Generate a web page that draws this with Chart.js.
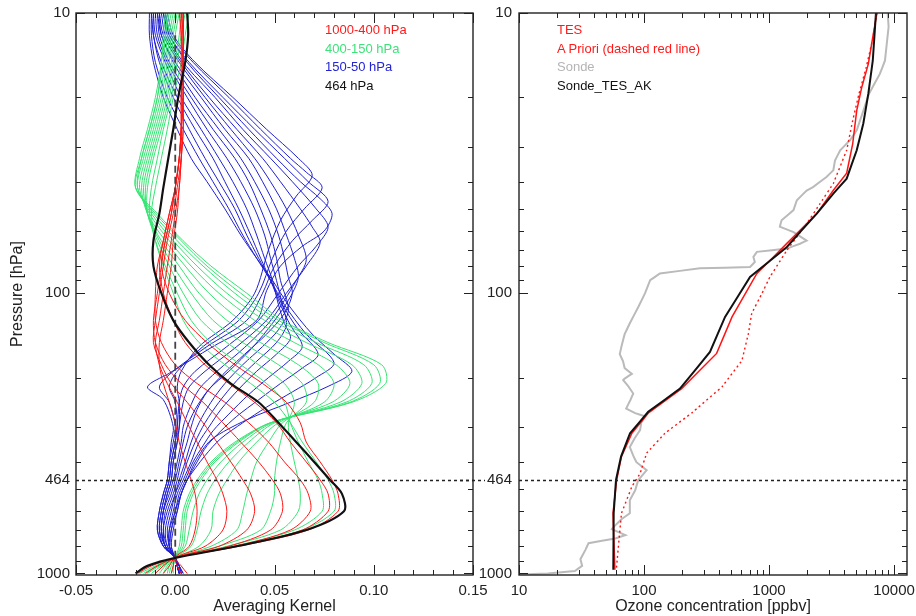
<!DOCTYPE html>
<html lang="en">
<head>
<meta charset="UTF-8">
<title>TES averaging kernels and ozone profile</title>
<script src="https://cdn.jsdelivr.net/npm/chart.js"></script>
<style>
    body {
        margin: 0;
        background: #fff;
        font-family: 'Liberation Sans', Arial, sans-serif;
    }
    #wrap {
        position: relative;
        width: 916px;
        height: 616px;
    }
    #kernels { position: absolute; left: 0; top: 0; }
    #ozone { position: absolute; left: 455px; top: 0; }
    .leg {
        position: absolute;
        font-size: 13px;
        line-height: 18.5px;
        white-space: nowrap;
    }
</style>
</head>
<body>
<div id="wrap">
    <canvas id="kernels" width="500" height="616" style="width:500px;height:616px"></canvas>
    <canvas id="ozone" width="461" height="616" style="width:461px;height:616px"></canvas>
    <div class="leg" style="left:325px;top:21px">
        <div style="color:#ff1a1a">1000-400 hPa</div>
        <div style="color:#3ee27a">400-150 hPa</div>
        <div style="color:#2323d2">150-50 hPa</div>
        <div style="color:#111">464 hPa</div>
    </div>
    <div class="leg" style="left:557px;top:21px">
        <div style="color:#ff1a1a">TES</div>
        <div style="color:#ff1a1a">A Priori (dashed red line)</div>
        <div style="color:#b4b4b4">Sonde</div>
        <div style="color:#111">Sonde_TES_AK</div>
    </div>
</div>

<script>
// ---------- left panel: averaging kernels ----------
// pressure levels (hPa) shared by the red, green and black kernels
const levels = [1000, 940, 880, 800, 700, 600, 520, 464, 400, 340, 290, 245, 210, 180, 150, 125, 100, 80, 65, 52, 42, 33, 26, 20, 15, 12, 10];

const kernel464 = [-0.020, -0.014, 0, 0.031, 0.066, 0.085, 0.084, 0.078, 0.070, 0.061, 0.052, 0.042, 0.028, 0.017, 0.007, -0.001, -0.007, -0.011, -0.011, -0.008, -0.006, -0.0035, -0.001, 0.0015, 0.005, 0.0065, 0.006];

// 1000-400 hPa rows
const redKernels = [
    [0.006, 0.003, 0, 0.007, 0.010, 0.011, 0.010, 0.008, 0.005, 0.002, 0.000, -0.003, -0.006, -0.008, -0.008, -0.006, -0.004, -0.002, -0.001, 0.001, 0.002, 0.003, 0.003, 0.003, 0.003, 0.003, 0.002],
    [0.003, 0.001, 0, 0.015, 0.024, 0.026, 0.024, 0.021, 0.016, 0.011, 0.006, 0.001, -0.004, -0.008, -0.010, -0.008, -0.006, -0.004, -0.002, 0.000, 0.002, 0.003, 0.004, 0.004, 0.004, 0.003, 0.003],
    [-0.002, -0.001, 0, 0.022, 0.036, 0.040, 0.038, 0.034, 0.028, 0.021, 0.014, 0.006, -0.002, -0.007, -0.011, -0.010, -0.008, -0.006, -0.004, -0.001, 0.001, 0.003, 0.004, 0.004, 0.004, 0.004, 0.003],
    [-0.006, -0.003, 0, 0.027, 0.048, 0.054, 0.053, 0.049, 0.042, 0.033, 0.024, 0.014, 0.003, -0.005, -0.010, -0.011, -0.009, -0.007, -0.005, -0.002, 0.000, 0.002, 0.003, 0.004, 0.004, 0.004, 0.004],
    [-0.010, -0.006, 0, 0.030, 0.058, 0.068, 0.067, 0.063, 0.055, 0.047, 0.037, 0.025, 0.011, 0.000, -0.007, -0.010, -0.010, -0.009, -0.006, -0.003, 0.000, 0.002, 0.003, 0.004, 0.004, 0.004, 0.004],
    [-0.015, -0.009, 0, 0.031, 0.064, 0.077, 0.077, 0.073, 0.066, 0.058, 0.051, 0.040, 0.027, 0.015, 0.005, -0.001, -0.006, -0.008, -0.006, -0.003, 0.000, 0.002, 0.003, 0.004, 0.004, 0.004, 0.004],
    [-0.019, -0.012, 0, 0.032, 0.067, 0.082, 0.082, 0.079, 0.073, 0.066, 0.063, 0.056, 0.044, 0.030, 0.016, 0.005, -0.003, -0.007, -0.005, -0.002, 0.000, 0.002, 0.003, 0.003, 0.004, 0.004, 0.004]
];

// 400-150 hPa rows
const greenKernels = [
    [-0.018, -0.010, 0, 0.030, 0.064, 0.080, 0.080, 0.077, 0.071, 0.064, 0.058, 0.050, 0.038, 0.025, 0.012, 0.004, -0.001, -0.006, -0.010, -0.012, -0.010, -0.007, -0.004, -0.001, 0.003, 0.005, 0.007],
    [-0.016, -0.009, 0, 0.029, 0.060, 0.074, 0.074, 0.072, 0.067, 0.062, 0.058, 0.055, 0.046, 0.033, 0.018, 0.008, 0.001, -0.005, -0.010, -0.013, -0.012, -0.009, -0.006, -0.002, 0.001, 0.003, 0.005],
    [-0.014, -0.008, 0, 0.026, 0.053, 0.062, 0.063, 0.062, 0.060, 0.058, 0.057, 0.060, 0.055, 0.042, 0.026, 0.013, 0.004, -0.003, -0.009, -0.014, -0.014, -0.011, -0.007, -0.003, 0.000, 0.002, 0.003],
    [-0.012, -0.007, 0, 0.022, 0.043, 0.048, 0.050, 0.050, 0.051, 0.053, 0.056, 0.066, 0.064, 0.052, 0.034, 0.019, 0.008, -0.001, -0.008, -0.014, -0.015, -0.012, -0.008, -0.004, -0.001, 0.000, 0.002],
    [-0.010, -0.006, 0, 0.018, 0.031, 0.034, 0.036, 0.038, 0.041, 0.047, 0.054, 0.070, 0.072, 0.062, 0.043, 0.026, 0.012, 0.002, -0.007, -0.014, -0.016, -0.013, -0.009, -0.005, -0.002, -0.001, 0.001],
    [-0.008, -0.005, 0, 0.012, 0.018, 0.019, 0.022, 0.026, 0.032, 0.041, 0.052, 0.075, 0.080, 0.072, 0.052, 0.033, 0.017, 0.005, -0.005, -0.014, -0.017, -0.014, -0.010, -0.006, -0.003, -0.002, 0.000],
    [-0.006, -0.004, 0, 0.008, 0.011, 0.013, 0.016, 0.020, 0.027, 0.037, 0.050, 0.079, 0.088, 0.081, 0.060, 0.040, 0.022, 0.008, -0.003, -0.013, -0.018, -0.015, -0.011, -0.007, -0.004, -0.003, -0.001],
    [-0.004, -0.003, 0, 0.005, 0.007, 0.009, 0.012, 0.016, 0.023, 0.034, 0.049, 0.083, 0.094, 0.089, 0.066, 0.045, 0.026, 0.011, -0.001, -0.012, -0.019, -0.016, -0.012, -0.008, -0.005, -0.004, -0.002],
    [-0.003, -0.002, 0, 0.004, 0.005, 0.006, 0.009, 0.013, 0.020, 0.032, 0.048, 0.086, 0.099, 0.095, 0.071, 0.049, 0.030, 0.014, 0.001, -0.011, -0.019, -0.017, -0.013, -0.009, -0.006, -0.005, -0.003],
    [-0.002, -0.001, 0, 0.003, 0.004, 0.005, 0.008, 0.012, 0.019, 0.031, 0.048, 0.088, 0.103, 0.100, 0.075, 0.052, 0.033, 0.016, 0.003, -0.010, -0.020, -0.017, -0.013, -0.009, -0.007, -0.005, -0.004],
    [-0.001, -0.001, 0, 0.002, 0.003, 0.004, 0.007, 0.011, 0.018, 0.030, 0.048, 0.089, 0.106, 0.104, 0.077, 0.054, 0.036, 0.018, 0.004, -0.009, -0.020, -0.018, -0.014, -0.010, -0.007, -0.006, -0.005]
];

// 150-50 hPa rows, each as [pressure, value] pairs
const blueKernels = [
    [[10,-0.013],[12,-0.013],[15,-0.011],[20,-0.006],[26,0.001],[33,0.008],[40,0.016],[50,0.025],[62,0.033],[75,0.041],[90,0.049],[110,0.057],[140,0.069],[165,0.080],[190,0.089],[215,0.077],[245,0.058],[283,0.036],[334,0.018],[400,0.010],[464,0.006],[520,0.003],[600,0.001],[700,-0.001],[800,-0.002],[880,0],[940,0.002],[1000,0.004]],
    [[10,-0.012],[12,-0.012],[15,-0.010],[20,-0.004],[26,0.004],[33,0.012],[40,0.019],[50,0.027],[62,0.034],[75,0.041],[90,0.048],[110,0.055],[140,0.066],[177,0.080],[200,0.071],[225,0.059],[255,0.046],[290,0.034],[330,0.023],[380,0.015],[464,0.006],[520,0.003],[600,0.001],[700,-0.002],[800,-0.002],[880,0],[940,0.002],[1000,0.004]],
    [[10,-0.012],[12,-0.011],[15,-0.008],[20,-0.001],[26,0.007],[33,0.015],[40,0.022],[50,0.030],[62,0.036],[75,0.042],[90,0.048],[110,0.054],[135,0.062],[165,0.072],[185,0.064],[210,0.053],[240,0.042],[275,0.031],[310,0.023],[350,0.016],[400,0.011],[464,0.006],[520,0.003],[600,0.000],[700,-0.002],[800,-0.003],[880,0],[940,0.002],[1000,0.003]],
    [[10,-0.011],[12,-0.011],[15,-0.007],[20,0.001],[26,0.010],[33,0.019],[40,0.025],[50,0.032],[62,0.038],[75,0.043],[90,0.048],[110,0.053],[130,0.058],[155,0.064],[175,0.057],[200,0.047],[230,0.037],[270,0.027],[310,0.019],[350,0.014],[400,0.009],[464,0.005],[520,0.002],[600,0.000],[700,-0.003],[800,-0.003],[880,0],[940,0.002],[1000,0.003]],
    [[10,-0.011],[12,-0.010],[15,-0.005],[20,0.003],[26,0.013],[33,0.022],[40,0.029],[50,0.036],[62,0.041],[75,0.045],[90,0.049],[110,0.052],[128,0.055],[145,0.058],[165,0.051],[190,0.041],[220,0.032],[260,0.023],[300,0.017],[340,0.012],[400,0.008],[464,0.004],[520,0.001],[600,-0.001],[700,-0.003],[800,-0.003],[880,0],[940,0.002],[1000,0.003]],
    [[10,-0.010],[12,-0.009],[15,-0.004],[20,0.006],[26,0.016],[33,0.026],[40,0.033],[50,0.040],[62,0.045],[75,0.048],[90,0.051],[110,0.054],[130,0.056],[150,0.051],[175,0.041],[205,0.031],[245,0.022],[290,0.015],[340,0.010],[400,0.006],[464,0.003],[520,0.000],[600,-0.002],[700,-0.004],[800,-0.003],[880,0],[940,0.001],[1000,0.003]],
    [[10,-0.009],[12,-0.008],[15,-0.003],[20,0.008],[26,0.019],[33,0.030],[40,0.037],[50,0.043],[62,0.048],[75,0.051],[90,0.053],[115,0.057],[135,0.052],[155,0.044],[180,0.034],[210,0.025],[245,0.018],[290,0.012],[340,0.008],[400,0.005],[464,0.002],[520,0.000],[600,-0.003],[700,-0.005],[800,-0.004],[880,0],[940,0.001],[1000,0.003]],
    [[10,-0.009],[12,-0.007],[15,-0.001],[20,0.010],[26,0.022],[33,0.033],[40,0.040],[50,0.047],[62,0.052],[75,0.055],[88,0.057],[100,0.059],[118,0.055],[140,0.046],[165,0.035],[195,0.024],[225,0.016],[260,0.011],[300,0.008],[340,0.006],[400,0.003],[464,0.001],[520,-0.001],[600,-0.004],[700,-0.006],[800,-0.004],[880,0],[940,0.001],[1000,0.002]],
    [[10,-0.008],[12,-0.007],[15,0.000],[20,0.013],[26,0.025],[33,0.037],[40,0.044],[50,0.051],[62,0.056],[75,0.060],[88,0.062],[106,0.057],[128,0.049],[156,0.039],[190,0.027],[220,0.017],[260,0.010],[300,0.006],[340,0.004],[400,0.002],[464,0.000],[520,-0.002],[600,-0.005],[700,-0.006],[800,-0.005],[880,0],[940,0.001],[1000,0.002]],
    [[10,-0.008],[12,-0.006],[15,0.002],[20,0.015],[26,0.028],[33,0.040],[40,0.048],[50,0.056],[62,0.062],[76,0.066],[90,0.061],[106,0.055],[128,0.047],[156,0.035],[190,0.021],[220,0.012],[260,0.007],[300,0.004],[340,0.003],[400,0.001],[464,-0.001],[520,-0.003],[600,-0.006],[700,-0.007],[800,-0.005],[880,0],[940,0.001],[1000,0.002]],
    [[10,-0.007],[12,-0.005],[15,0.003],[20,0.017],[26,0.031],[33,0.044],[40,0.053],[50,0.063],[58,0.069],[66,0.073],[80,0.066],[100,0.056],[125,0.046],[155,0.031],[190,0.015],[216,0.007],[245,0.004],[300,0.002],[340,0.001],[400,-0.001],[464,-0.002],[520,-0.004],[600,-0.006],[700,-0.007],[800,-0.005],[880,0],[940,0.001],[1000,0.002]],
    [[10,-0.006],[12,-0.004],[15,0.004],[20,0.020],[26,0.034],[33,0.048],[40,0.059],[50,0.071],[58,0.077],[68,0.071],[80,0.062],[100,0.052],[125,0.042],[155,0.026],[190,0.010],[216,0.004],[245,0.002],[300,0.001],[340,0.000],[400,-0.002],[464,-0.003],[520,-0.005],[600,-0.007],[700,-0.008],[800,-0.005],[880,0],[940,0.001],[1000,0.002]],
    [[10,-0.006],[12,-0.003],[15,0.006],[20,0.022],[26,0.037],[33,0.051],[40,0.063],[46,0.073],[52,0.079],[60,0.075],[68,0.064],[80,0.053],[98,0.046],[125,0.041],[155,0.019],[193,-0.003],[216,-0.014],[240,-0.006],[300,-0.001],[340,-0.002],[400,-0.003],[464,-0.004],[520,-0.006],[600,-0.008],[700,-0.009],[800,-0.006],[880,0],[940,0.001],[1000,0.002]],
    [[10,-0.005],[12,-0.003],[15,0.007],[20,0.024],[26,0.040],[33,0.055],[40,0.067],[47,0.077],[55,0.069],[65,0.059],[80,0.050],[100,0.044],[125,0.036],[155,0.016],[190,-0.001],[216,-0.008],[245,-0.003],[300,0.000],[340,-0.001],[400,-0.003],[464,-0.004],[520,-0.006],[600,-0.008],[700,-0.009],[800,-0.006],[880,0],[940,0.001],[1000,0.002]],
    [[10,-0.005],[12,-0.002],[15,0.009],[20,0.027],[26,0.043],[33,0.058],[37,0.066],[42,0.074],[50,0.065],[60,0.056],[75,0.049],[100,0.042],[125,0.032],[155,0.014],[190,0.001],[216,-0.003],[245,0.000],[300,0.001],[340,0.000],[400,-0.002],[464,-0.003],[520,-0.005],[600,-0.007],[700,-0.008],[800,-0.006],[880,0],[940,0.001],[1000,0.002]],
    [[10,-0.004],[12,-0.001],[15,0.010],[20,0.029],[26,0.046],[33,0.062],[38,0.069],[45,0.061],[55,0.053],[70,0.047],[100,0.040],[125,0.029],[155,0.012],[190,0.003],[216,0.001],[245,0.002],[300,0.002],[340,0.001],[400,-0.001],[464,-0.002],[520,-0.004],[600,-0.006],[700,-0.007],[800,-0.005],[880,0],[940,0.001],[1000,0.002]]
];

const kernelTickLabels = [-0.05, 0, 0.05, 0.10, 0.15];
const kernelMinorTicks = [-0.04, -0.03, -0.02, -0.01, 0.01, 0.02, 0.03, 0.04, 0.06, 0.07, 0.08, 0.09, 0.11, 0.12, 0.13, 0.14];

// ---------- right panel: ozone profiles ----------
const sondeP = [10, 11.2, 14.8, 16.5, 19.4, 22.3, 26.2, 28.4, 30.9, 33.6, 36.4, 38.5, 41.8, 43, 46.6, 50.5, 54.9, 57.9, 60.5, 64.9, 66.6, 69.3, 71.2, 74.2, 77.4, 80.6, 81.5, 85, 89.9, 100, 112, 128, 140, 155, 165, 175, 185, 194, 200, 204, 215, 228, 240, 258, 268, 275, 290, 308, 330, 354, 380, 401, 428, 464, 505, 548, 610, 641, 694, 730, 750, 780, 824, 890, 940, 980, 1000, 1010];
const sondeV = [8900, 9050, 8460, 7700, 6310, 5690, 5030, 4460, 3710, 3370, 3270, 2880, 2250, 2000, 1670, 1570, 1260, 1220, 1570, 2000, 1770, 1390, 800, 750, 770, 705, 280, 134, 112, 102, 90, 77, 70, 66, 64, 68, 70, 80, 72, 68, 75, 82, 78, 72, 85, 102, 95, 93, 84, 77, 82, 87, 105, 90, 85, 77, 77, 66, 55, 71, 59, 36, 34, 31, 32, 28, 17, 10];

const tesP = [10, 12.2, 15.2, 18.4, 22.3, 29.3, 37.3, 42.9, 52, 66.4, 85, 121.5, 164, 219, 268, 316, 383, 464, 610, 971];
const tesV = [7300, 6760, 6230, 5520, 5030, 4670, 4180, 3270, 2410, 1390, 800, 506, 381, 200, 108, 80, 66, 60.4, 56.5, 58.5];

const aprioriP = [10, 12.2, 15.6, 19.4, 24.2, 30.9, 40.6, 47.9, 56.5, 70.3, 87.5, 100, 118, 139, 174, 216, 268, 316, 372, 440, 490, 610, 971];
const aprioriV = [7300, 6800, 6000, 5250, 4670, 4180, 3270, 2560, 2000, 1390, 1016, 880, 727, 685, 607, 420, 240, 147, 105, 93, 80, 66, 60];

const sondeAkP = [10, 11.2, 14.8, 19.4, 24.8, 30.9, 39, 44.1, 52, 60.5, 68.4, 87.5, 121.5, 162, 219, 265, 316, 383, 464, 610, 971];
const sondeAkV = [7170, 7050, 6760, 6230, 5680, 5030, 4180, 3270, 2410, 1770, 1390, 705, 445, 337, 194, 108, 77.3, 65.5, 59.7, 57.2, 56.8];

const ozoneTickLabels = [10, 100, 1000, 10000];
const ozoneMinorTicks = [20, 30, 40, 50, 60, 70, 80, 90, 200, 300, 400, 500, 600, 700, 800, 900, 2000, 3000, 4000, 5000, 6000, 7000, 8000, 9000];

const pressureTickLabels = [10, 100, 464, 1000];
const pressureMajorTicks = [10, 100, 1000];
const pressureMinorTicks = [20, 30, 40, 50, 60, 70, 80, 90, 200, 300, 400, 500, 600, 700, 800, 900];

const RED = 'rgb(255, 20, 20)';
const GREEN = 'rgb(55, 228, 115)';
const BLUE = 'rgb(30, 30, 212)';
const GREY = 'rgb(186, 186, 186)';
const FONT = "'Liberation Sans', Arial, sans-serif";

Chart.defaults.font.family = FONT;
Chart.defaults.color = '#222';

// inward tick marks on all four sides, the frame and the 464 hPa dotted line
const frameTicks = {
    id: 'frameTicks',
    afterDatasetsDraw(chart, args, o) {
        const {ctx, chartArea: a} = chart;
        const sx = chart.scales.x, sy = chart.scales.y;
        ctx.save();
        ctx.strokeStyle = '#222';
        ctx.lineWidth = 1;
        ctx.beginPath();
        const tx = (v, len) => {
            const x = Math.round(sx.getPixelForValue(v)) + 0.5;
            ctx.moveTo(x, a.bottom); ctx.lineTo(x, a.bottom - len);
            ctx.moveTo(x, a.top); ctx.lineTo(x, a.top + len);
        };
        const ty = (v, len) => {
            const y = Math.round(sy.getPixelForValue(v)) + 0.5;
            ctx.moveTo(a.left, y); ctx.lineTo(a.left + len, y);
            ctx.moveTo(a.right, y); ctx.lineTo(a.right - len, y);
        };
        o.xMajor.forEach(v => tx(v, 10));
        o.xMinor.forEach(v => tx(v, 5));
        o.yMajor.forEach(v => ty(v, 9));
        o.yMinor.forEach(v => ty(v, 5));
        ctx.stroke();
        ctx.lineWidth = 1.4;
        ctx.strokeRect(a.left, a.top, a.right - a.left, a.bottom - a.top);

        const y = Math.round(sy.getPixelForValue(464)) + 0.5;
        ctx.setLineDash([3, 3]);
        ctx.lineWidth = 1.3;
        ctx.beginPath();
        if (o.leadIn) {
            ctx.moveTo(o.leadIn[0], y); ctx.lineTo(o.leadIn[1], y);
        }
        ctx.moveTo(a.left, y); ctx.lineTo(a.right, y);
        ctx.stroke();
        ctx.restore();
    }
};

function fixBox(size, horizontal) {
    return function (scale) {
        if (horizontal) scale.height = size; else scale.width = size;
        scale.paddingLeft = 0; scale.paddingRight = 0;
        scale.paddingTop = 0; scale.paddingBottom = 0;
    };
}

function setTicks(values) {
    return function (scale) {
        scale.ticks = values.map(v => ({value: v}));
    };
}

function pressureAxis(width, pad, showTitle) {
    return {
        type: 'logarithmic',
        reverse: true,
        min: 10,
        max: 1013,
        grid: {display: false, drawTicks: false},
        border: {display: false},
        afterBuildTicks: setTicks(pressureTickLabels),
        afterFit: fixBox(width, false),
        ticks: {
            padding: pad,
            autoSkip: false,
            font: {size: 15},
            color: '#222',
            callback: v => String(v)
        },
        title: {
            display: showTitle,
            text: 'Pressure [hPa]',
            font: {size: 16},
            color: '#222',
            padding: {top: 8, bottom: 0}
        }
    };
}

// ---------- kernels chart ----------
const kernelSets = [];
kernelSets.push({
    data: levels.map((p, i) => ({x: kernel464[i], y: p})),
    borderColor: '#111', borderWidth: 2.2, tension: 0.3, order: 0
});
kernelSets.push({
    data: [{x: 0, y: 880}, {x: 0, y: 12}],
    borderColor: '#444', borderWidth: 1.8, borderDash: [7, 4], order: 1
});
redKernels.forEach(k => kernelSets.push({
    data: levels.map((p, i) => ({x: k[i], y: p})),
    borderColor: RED, borderWidth: 1, tension: 0.3, order: 2
}));
greenKernels.forEach(k => kernelSets.push({
    data: levels.map((p, i) => ({x: k[i], y: p})),
    borderColor: GREEN, borderWidth: 1, tension: 0.3, order: 3
}));
blueKernels.forEach(k => kernelSets.push({
    data: k.map(([p, v]) => ({x: v, y: p})),
    borderColor: BLUE, borderWidth: 1, tension: 0.3, order: 4
}));

new Chart(document.getElementById('kernels'), {
    type: 'line',
    data: {datasets: kernelSets},
    options: {
        responsive: false,
        animation: false,
        layout: {padding: {top: 13, right: 27, bottom: 0, left: 0}, autoPadding: false},
        elements: {point: {radius: 0}, line: {fill: false}},
        plugins: {
            legend: {display: false},
            tooltip: {enabled: false},
            frameTicks: {
                xMajor: kernelTickLabels, xMinor: kernelMinorTicks,
                yMajor: pressureMajorTicks, yMinor: pressureMinorTicks
            }
        },
        scales: {
            x: {
                type: 'linear',
                min: -0.05,
                max: 0.15,
                grid: {display: false, drawTicks: false},
                border: {display: false},
                afterBuildTicks: setTicks(kernelTickLabels),
                afterFit: fixBox(41, true),
                ticks: {
                    padding: 7,
                    autoSkip: false,
                    maxRotation: 0,
                    font: {size: 15},
                    color: '#222',
                    callback: v => Number(v).toFixed(2)
                },
                title: {
                    display: true,
                    text: 'Averaging Kernel',
                    font: {size: 16},
                    color: '#222',
                    padding: {top: 0, bottom: 0}
                }
            },
            y: pressureAxis(76, 6, true)
        }
    },
    plugins: [frameTicks]
});

// ---------- ozone chart ----------
function profile(pArr, vArr, color, width, order, dash) {
    return {
        data: pArr.map((p, i) => ({x: vArr[i], y: p})),
        borderColor: color,
        borderWidth: width,
        borderDash: dash || [],
        tension: 0.0001,
        order: order
    };
}

new Chart(document.getElementById('ozone'), {
    type: 'line',
    data: {
        datasets: [
            profile(sondeAkP, sondeAkV, '#111', 2, 0),
            profile(tesP, tesV, RED, 1.5, 1),
            profile(aprioriP, aprioriV, RED, 1.4, 2, [2, 3]),
            profile(sondeP, sondeV, GREY, 2, 3)
        ]
    },
    options: {
        responsive: false,
        animation: false,
        layout: {padding: {top: 13, right: 9, bottom: 0, left: 0}, autoPadding: false},
        elements: {point: {radius: 0}, line: {fill: false}},
        plugins: {
            legend: {display: false},
            tooltip: {enabled: false},
            frameTicks: {
                xMajor: ozoneTickLabels, xMinor: ozoneMinorTicks,
                yMajor: pressureMajorTicks, yMinor: pressureMinorTicks,
                leadIn: [5, 30]
            }
        },
        scales: {
            x: {
                type: 'logarithmic',
                min: 10,
                max: 12700,
                grid: {display: false, drawTicks: false},
                border: {display: false},
                afterBuildTicks: setTicks(ozoneTickLabels),
                afterFit: fixBox(41, true),
                ticks: {
                    padding: 7,
                    autoSkip: false,
                    maxRotation: 0,
                    font: {size: 15},
                    color: '#222',
                    callback: v => String(v)
                },
                title: {
                    display: true,
                    text: 'Ozone concentration [ppbv]',
                    font: {size: 16},
                    color: '#222',
                    padding: {top: 0, bottom: 0}
                }
            },
            y: pressureAxis(64, 7, false)
        }
    },
    plugins: [frameTicks]
});
</script>
</body>
</html>
